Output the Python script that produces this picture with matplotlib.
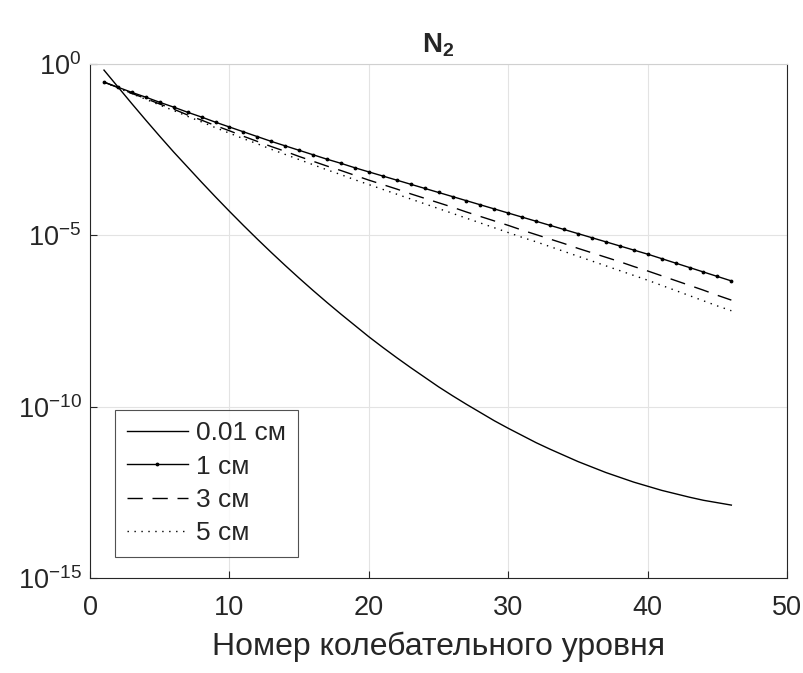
import numpy as np
import matplotlib.pyplot as plt
from matplotlib.ticker import NullLocator

plt.rcParams['font.family'] = ['Liberation Sans', 'DejaVu Sans']
plt.rcParams['mathtext.fontset'] = 'custom'
plt.rcParams['mathtext.rm'] = 'Liberation Sans'
plt.rcParams['mathtext.bf'] = 'Liberation Sans:bold'

# vibrational level numbers
levels = list(range(1, 47))

# log10 of the relative level population for each distance
lg_001cm = [-0.18, -0.67, -1.16, -1.64, -2.11, -2.57, -3.01, -3.45, -3.88, -4.30,
            -4.71, -5.11, -5.50, -5.88, -6.25, -6.61, -6.96, -7.30, -7.63, -7.96,
            -8.27, -8.57, -8.86, -9.14, -9.42, -9.68, -9.93, -10.17, -10.41, -10.63,
            -10.84, -11.05, -11.24, -11.42, -11.60, -11.76, -11.92, -12.06, -12.20, -12.32,
            -12.44, -12.54, -12.64, -12.73, -12.80, -12.87]
lg_1cm = [-0.53, -0.68, -0.83, -0.97, -1.12, -1.26, -1.41, -1.55, -1.70, -1.84,
          -1.98, -2.12, -2.26, -2.39, -2.52, -2.65, -2.78, -2.90, -3.03, -3.15,
          -3.27, -3.39, -3.51, -3.63, -3.75, -3.87, -3.99, -4.11, -4.23, -4.35,
          -4.47, -4.59, -4.71, -4.83, -4.95, -5.07, -5.19, -5.31, -5.43, -5.55,
          -5.68, -5.81, -5.94, -6.07, -6.20, -6.33]
lg_3cm = [-0.53, -0.69, -0.86, -1.01, -1.17, -1.32, -1.49, -1.64, -1.80, -1.95,
          -2.11, -2.26, -2.41, -2.55, -2.70, -2.84, -2.98, -3.11, -3.25, -3.39,
          -3.52, -3.65, -3.79, -3.92, -4.05, -4.18, -4.32, -4.45, -4.58, -4.71,
          -4.85, -4.98, -5.11, -5.24, -5.38, -5.51, -5.64, -5.77, -5.91, -6.04,
          -6.18, -6.32, -6.46, -6.60, -6.75, -6.89]
lg_5cm = [-0.53, -0.70, -0.87, -1.03, -1.20, -1.36, -1.53, -1.69, -1.86, -2.02,
          -2.18, -2.33, -2.49, -2.64, -2.79, -2.94, -3.09, -3.23, -3.38, -3.52,
          -3.66, -3.80, -3.94, -4.08, -4.22, -4.36, -4.50, -4.64, -4.78, -4.92,
          -5.06, -5.19, -5.33, -5.47, -5.61, -5.75, -5.89, -6.03, -6.17, -6.31,
          -6.46, -6.61, -6.76, -6.91, -7.06, -7.20]

labels = ['0.01 см', '1 см', '3 см', '5 см']
yticks = [1e-15, 1e-10, 1e-5, 1e0]
xticks = [0, 10, 20, 30, 40, 50]

txt = '#262626'
fig = plt.figure(figsize=(8.04, 6.73), dpi=100)
ax = fig.add_axes([0.112, 0.141, 0.867, 0.764])

x = np.array(levels)
ax.plot(x, 10.0 ** np.array(lg_001cm), color='k', lw=1.0, label=labels[0])
ax.plot(x, 10.0 ** np.array(lg_1cm), color='k', lw=1.0, marker='.', markersize=3.5,
        label=labels[1])
ax.plot(x, 10.0 ** np.array(lg_3cm), color='k', lw=1.0, dashes=(11, 7), label=labels[2])
ax.plot(x, 10.0 ** np.array(lg_5cm), color='k', lw=1.0, dashes=(1, 4), label=labels[3])

ax.set_yscale('log')
ax.set_xlim(0, 50)
ax.set_ylim(1e-15, 1e0)
ax.set_xticks(xticks)
ax.set_yticks(yticks)
ax.yaxis.set_minor_locator(NullLocator())
ax.grid(True, color='#e3e3e3', lw=0.8)
ax.set_axisbelow(True)

ax.tick_params(direction='in', length=5, width=0.8, colors=txt, labelsize=19.5,
               top=False, right=False)
ax.tick_params(axis='x', pad=12)
ax.tick_params(axis='y', pad=6)
for s in ['left', 'bottom', 'right']:
    ax.spines[s].set_color(txt)
    ax.spines[s].set_linewidth(0.8)
ax.spines['top'].set_color('#d0d0d0')

ax.set_xlabel('Номер колебательного уровня', fontsize=23, color=txt, labelpad=8)
ax.set_title(r'$\mathbf{N_2}$', fontsize=20, color=txt, pad=8)

leg = ax.legend(loc='lower left', bbox_to_anchor=(0.036, 0.041), fontsize=19,
                frameon=True, fancybox=False, edgecolor=txt, handlelength=2.3,
                handletextpad=0.3, borderpad=0.45, labelspacing=0.35, borderaxespad=0)
leg.get_frame().set_linewidth(0.8)
for t in leg.get_texts():
    t.set_color(txt)

fig.savefig('out.png', dpi=100)
